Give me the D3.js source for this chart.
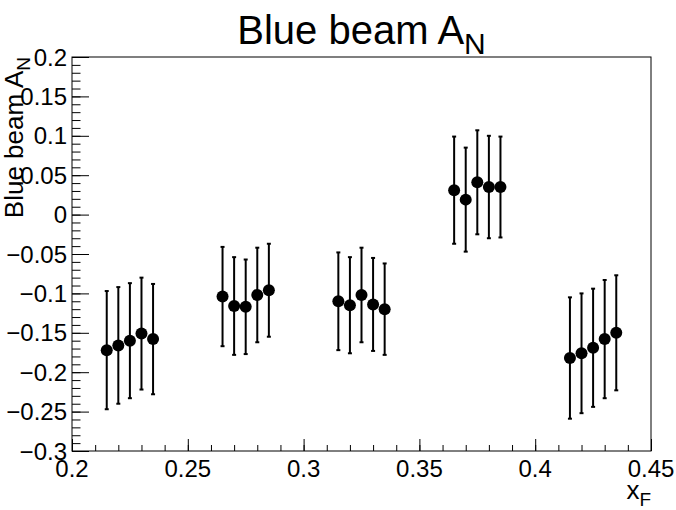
<!DOCTYPE html>
<html>
<head>
<meta charset="utf-8">
<script src="https://d3js.org/d3.v7.min.js"></script>
<style>
    body { margin: 0; background: #fff; }
    text { font-family: "Liberation Sans", Arial, Helvetica, sans-serif; fill: #000; }
</style>
</head>
<body>
<script>
// x_F bins, five per group
var xF = [0.215, 0.22, 0.225, 0.23, 0.235,
          0.265, 0.27, 0.275, 0.28, 0.285,
          0.315, 0.32, 0.325, 0.33, 0.335,
          0.365, 0.37, 0.375, 0.38, 0.385,
          0.415, 0.42, 0.425, 0.43, 0.435];
// measured asymmetry
var AN = [-0.172, -0.166, -0.160, -0.151, -0.158,
          -0.104, -0.116, -0.117, -0.102, -0.096,
          -0.110, -0.115, -0.102, -0.114, -0.120,
           0.031,  0.019,  0.041,  0.035,  0.035,
          -0.182, -0.176, -0.169, -0.158, -0.150];
// statistical errors
var ANerr = [0.075, 0.074, 0.073, 0.071, 0.070,
             0.063, 0.062, 0.060, 0.060, 0.059,
             0.062, 0.061, 0.060, 0.059, 0.058,
             0.068, 0.066, 0.066, 0.065, 0.064,
             0.077, 0.076, 0.075, 0.075, 0.073];
var xMajorTicks = [0.2, 0.25, 0.3, 0.35, 0.4, 0.45];
var yMajorTicks = [0.2, 0.15, 0.1, 0.05, 0, -0.05, -0.1, -0.15, -0.2, -0.25, -0.3];

function drawChart () {
    var width = 676,
        height = 510;
    var frame = {left: 72, right: 651, top: 57, bottom: 451};

    var svg = d3.select("body").append("svg")
        .attr("width", width)
        .attr("height", height);

    var x = d3.scaleLinear().domain([0.2, 0.45]).range([frame.left, frame.right]);
    var y = d3.scaleLinear().domain([-0.3, 0.2]).range([frame.bottom, frame.top]);

    // minor ticks every 0.01
    var xMinor = d3.range(20, 46).map(function (d) { return d / 100; });
    var yMinor = d3.range(-30, 21).map(function (d) { return d / 100; });

    var fmt = function (d) { return d3.format("")(d).replace("-", "\u2212"); };

    // x axis
    var xAxis = svg.append("g")
        .attr("transform", "translate(0," + frame.bottom + ")");
    xAxis.call(d3.axisTop(x).tickValues(xMinor).tickSize(6).tickFormat(""));
    xAxis.append("g").call(d3.axisTop(x).tickValues(xMajorTicks).tickSize(12).tickFormat(""));
    xAxis.selectAll(".domain").remove();
    xAxis.selectAll("line").attr("stroke", "#000").attr("stroke-width", 1);

    svg.append("g").selectAll("text")
        .data(xMajorTicks)
        .enter().append("text")
        .attr("x", function (d) { return x(d); })
        .attr("y", frame.bottom + 26)
        .attr("text-anchor", "middle")
        .style("font-size", "24px")
        .text(fmt);

    // y axis
    var yAxis = svg.append("g")
        .attr("transform", "translate(" + frame.left + ",0)");
    yAxis.call(d3.axisRight(y).tickValues(yMinor).tickSize(8.5).tickFormat(""));
    yAxis.append("g").call(d3.axisRight(y).tickValues(yMajorTicks).tickSize(17).tickFormat(""));
    yAxis.selectAll(".domain").remove();
    yAxis.selectAll("line").attr("stroke", "#000").attr("stroke-width", 1);

    svg.append("g").selectAll("text")
        .data(yMajorTicks)
        .enter().append("text")
        .attr("x", frame.left - 5)
        .attr("y", function (d) { return y(d); })
        .attr("dy", "0.36em")
        .attr("text-anchor", "end")
        .style("font-size", "24px")
        .text(fmt);

    // frame box
    svg.append("rect")
        .attr("x", frame.left)
        .attr("y", frame.top)
        .attr("width", frame.right - frame.left)
        .attr("height", frame.bottom - frame.top)
        .attr("fill", "none")
        .attr("stroke", "#000")
        .attr("stroke-width", 1);

    var points = xF.map(function (d, i) { return {x: d, y: AN[i], e: ANerr[i]}; });

    // error bars
    var bars = svg.append("g").attr("class", "errors");
    bars.selectAll("line.bar")
        .data(points)
        .enter().append("line")
        .attr("class", "bar")
        .attr("x1", function (d) { return x(d.x); })
        .attr("x2", function (d) { return x(d.x); })
        .attr("y1", function (d) { return y(d.y + d.e); })
        .attr("y2", function (d) { return y(d.y - d.e); })
        .attr("stroke", "#000")
        .attr("stroke-width", 2);
    bars.selectAll("line.cap")
        .data(points.concat(points).map(function (d, i) { return {x: d.x, v: i < points.length ? d.y + d.e : d.y - d.e}; }))
        .enter().append("line")
        .attr("class", "cap")
        .attr("x1", function (d) { return x(d.x) - 2; })
        .attr("x2", function (d) { return x(d.x) + 2; })
        .attr("y1", function (d) { return y(d.v); })
        .attr("y2", function (d) { return y(d.v); })
        .attr("stroke", "#000")
        .attr("stroke-width", 2);

    // markers
    svg.append("g").selectAll("circle")
        .data(points)
        .enter().append("circle")
        .attr("cx", function (d) { return x(d.x); })
        .attr("cy", function (d) { return y(d.y); })
        .attr("r", 6)
        .attr("fill", "#000");

    // title
    var title = svg.append("text")
        .attr("x", (frame.left + frame.right) / 2)
        .attr("y", 44)
        .attr("text-anchor", "middle")
        .style("font-size", "40px");
    title.append("tspan").text("Blue beam A");
    title.append("tspan").attr("dy", 10).style("font-size", "30px").text("N");

    // axis titles
    var xTitle = svg.append("text")
        .attr("x", frame.right)
        .attr("y", 499)
        .attr("text-anchor", "end")
        .style("font-size", "26px");
    xTitle.append("tspan").text("x");
    xTitle.append("tspan").attr("dy", 7).style("font-size", "19px").text("F");

    var yTitle = svg.append("text")
        .attr("transform", "translate(23," + frame.top + ") rotate(-90)")
        .attr("text-anchor", "end")
        .style("font-size", "26px");
    yTitle.append("tspan").text("Blue beam A");
    yTitle.append("tspan").attr("dy", 7).style("font-size", "19px").text("N");
}

drawChart();
</script>
</body>
</html>
